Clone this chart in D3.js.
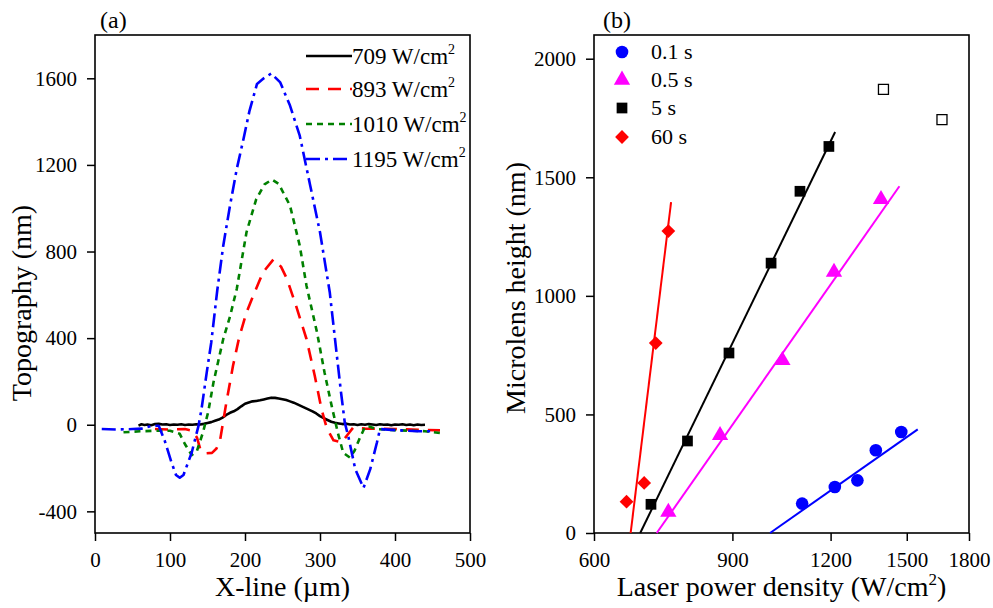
<!DOCTYPE html>
<html><head><meta charset="utf-8">
<script src="https://cdn.jsdelivr.net/npm/d3@7"></script>
<style>
body{margin:0;background:#fff;}
svg text{font-family:"Liberation Serif","Times New Roman",serif;fill:#000;}
</style></head>
<body><svg id="c" width="993" height="608"></svg>
<script>
// ---------- Panel (a) data: topography profiles (x in µm, y in nm)
const legendA = ["709", "893", "1010", "1195"];
const curve709 = [[58,-4],[62,2],[66,-1],[70,1],[75,-2],[80,3],[85,4],[90,1],[95,2],[100,-1],[105,1],[110,0],[115,2],[120,-1],[125,1],[130,0],[135,2],[140,1],[145,4],[150,8],[155,12],[160,18],[165,24],[170,33],[175,45],[180,55],[185,62],[190,72],[195,85],[200,97],[205,103],[210,108],[215,110],[220,113],[225,117],[230,121],[235,125],[240,124],[245,121],[250,118],[255,114],[260,108],[265,102],[270,94],[275,86],[280,78],[285,70],[290,62],[295,52],[300,40],[305,30],[310,22],[315,14],[320,9],[325,6],[330,3],[335,5],[340,1],[345,2],[350,-1],[355,2],[360,0],[365,3],[370,1],[375,-1],[380,2],[385,0],[390,1],[395,-2],[400,1],[405,0],[410,2],[415,-1],[420,1],[425,-2],[430,1],[435,-1],[440,0]];
const curve893 = [[80,-20],[100,-22],[120,-20],[130,-28],[136,-60],[141,-120],[148,-132],[156,-130],[162,-110],[167,-67],[175,100],[184,272],[192,400],[202,519],[211,596],[224,704],[238,764],[248,730],[256,673],[268,550],[282,396],[293,226],[302,72],[309,-15],[318,-72],[329,-82],[337,-45],[344,-14],[360,-18],[400,-20],[440,-24],[460,-26]];
const curve1010 = [[38,-35],[60,-30],[80,-28],[100,-28],[113,-42],[120,-90],[129,-140],[136,-120],[144,-35],[151,60],[158,196],[171,396],[180,500],[189,627],[202,889],[215,1042],[226,1110],[236,1132],[245,1112],[260,1012],[273,827],[282,642],[296,427],[306,242],[316,80],[324,-40],[331,-130],[340,-152],[346,-120],[352,-70],[360,-10],[365,-8],[375,-20],[400,-25],[440,-30],[460,-38]];
const curve1195 = [[9,-20],[30,-22],[50,-20],[62,-18],[76,-5],[85,-5],[93,-74],[102,-174],[108,-232],[113,-245],[118,-232],[129,-128],[138,-5],[142,72],[149,242],[155,380],[163,620],[171,827],[180,1012],[189,1181],[198,1320],[206,1450],[216,1574],[225,1600],[235,1622],[247,1581],[260,1474],[273,1335],[287,1104],[300,889],[313,612],[322,334],[328,150],[333,11],[338,-58],[347,-205],[358,-292],[367,-205],[376,-81],[380,-20],[400,-25],[430,-30],[447,-30]];
const xTicksA = [0,100,200,300,400,500];
const yTicksA = [-400,0,400,800,1200,1600];

// ---------- Panel (b) data: microlens height vs laser power density
const legendB = ["0.1 s", "0.5 s", "5 s", "60 s"];
const pts01 = [[1104,124],[1215,194],[1298,222],[1370,349],[1476,426]];
const pts05 = [[746,88],[868,412],[1042,728],[1212,1100],[1391,1407]];
const pts5  = [[709,121],[789,388],[891,759],[1008,1138],[1097,1441],[1194,1630]];
const pts60 = [[660,132],[695,211],[719,801],[746,1273]];
const ptsOpen = [[1401,1871],[1663,1743]];
const fit01 = [[1005,0],[1549,437]];
const fit05 = [[721,0],[1468,1462]];
const fit5  = [[687,0],[1216,1691]];
const fit60 = [[668,0],[752,1395]];
const xTicksB = [600,900,1200,1500,1800];
const yTicksB = [0,500,1000,1500,2000];

const svg = d3.select("#c");
svg.append("rect").attr("width",993).attr("height",608).attr("fill","#fff");
const fmt = d => String(d);

// ================= Panel (a)
const A = {l:95, r:470, t:35, b:533};
const xA = d3.scaleLinear([0,500],[A.l,A.r]);
const yA = d3.scaleLinear([-500,1800],[A.b,A.t]);

function axes(g, xs, ys, box, xT, yT, xMinor, yMinor){
  const gx = g.append("g").attr("transform",`translate(0,${box.b})`);
  gx.call(d3.axisBottom(xs).tickValues(xMinor).tickSize(5).tickFormat(""));
  gx.call(d3.axisBottom(xs).tickValues(xT).tickSize(8).tickPadding(11).tickFormat(fmt));
  const gy = g.append("g").attr("transform",`translate(${box.l},0)`);
  gy.call(d3.axisLeft(ys).tickValues(yMinor).tickSize(5).tickFormat(""));
  gy.call(d3.axisLeft(ys).tickValues(yT).tickSize(8).tickPadding(10).tickFormat(fmt));
  g.selectAll(".domain").remove();
  g.selectAll(".tick line").attr("stroke","#000").attr("stroke-width",1.5);
  g.selectAll(".tick text").attr("font-size",21).attr("fill","#000");
  g.append("rect").attr("x",box.l).attr("y",box.t).attr("width",box.r-box.l).attr("height",box.b-box.t)
    .attr("fill","none").attr("stroke","#000").attr("stroke-width",1.6);
}

const gA = svg.append("g");
svg.append("clipPath").attr("id","clipA").append("rect")
  .attr("x",A.l).attr("y",A.t).attr("width",A.r-A.l).attr("height",A.b-A.t);

const lineA = d3.line().x(d=>xA(d[0])).y(d=>yA(d[1]));
const seriesA = [
  {data:curve709, color:"#000000", dash:null, w:2.6},
  {data:curve893, color:"#ff0000", dash:"13,9", w:2.6},
  {data:curve1010, color:"#008000", dash:"6,5", w:2.6},
  {data:curve1195, color:"#0000ff", dash:"14,5,3,5", w:2.6}
];
const plotA = gA.append("g").attr("clip-path","url(#clipA)");
seriesA.forEach(s=>{
  plotA.append("path").attr("d",lineA(s.data)).attr("fill","none")
    .attr("stroke",s.color).attr("stroke-width",s.w)
    .attr("stroke-dasharray",s.dash).attr("stroke-linejoin","round");
});
axes(gA, xA, yA, A, xTicksA, yTicksA,
  [50,150,250,350,450], [-200,200,600,1000,1400]);

// legend (a)
const legYA = [56, 89, 124, 159];
seriesA.forEach((s,i)=>{
  gA.append("line").attr("x1",306).attr("x2",352).attr("y1",legYA[i]).attr("y2",legYA[i])
    .attr("stroke",s.color).attr("stroke-width",s.w).attr("stroke-dasharray",s.dash);
  const t = gA.append("text").attr("x",352).attr("y",legYA[i]+8).attr("font-size",23);
  t.append("tspan").text(legendA[i]+" W/cm");
  t.append("tspan").text("2").attr("font-size",14).attr("dy",-10);
});

svg.append("text").attr("x",100).attr("y",28).attr("font-size",24).text("(a)");
svg.append("text").attr("x",(A.l+A.r)/2).attr("y",596).attr("text-anchor","middle")
  .attr("font-size",28).text("X-line (µm)");
svg.append("text").attr("transform","translate(31,303) rotate(-90)").attr("text-anchor","middle")
  .attr("font-size",28).text("Topography (nm)");

// ================= Panel (b)
const B = {l:594, r:969, t:35, b:533};
const xB = d3.scaleLog([600,1800],[B.l,B.r]);
const yB = d3.scaleLinear([0,2100],[B.b,B.t]);
const gB = svg.append("g");
const minorXB = d3.range(630,1800,30).filter(v=>v%300!==0);
axes(gB, xB, yB, B, xTicksB, yTicksB, minorXB, [250,750,1250,1750]);

const lineB = d3.line().x(d=>xB(d[0])).y(d=>yB(d[1]));
const seriesB = [
  {pts:pts01, fit:fit01, color:"#0000ff", sym:d3.symbolCircle, size:125, rot:0},
  {pts:pts05, fit:fit05, color:"#ff00ff", sym:d3.symbolTriangle, size:115, rot:0},
  {pts:pts5,  fit:fit5,  color:"#000000", sym:d3.symbolSquare, size:115, rot:0},
  {pts:pts60, fit:fit60, color:"#ff0000", sym:d3.symbolSquare, size:95, rot:45}
];
seriesB.forEach(s=>{
  gB.append("path").attr("d",lineB(s.fit)).attr("fill","none").attr("stroke",s.color).attr("stroke-width",2);
});
seriesB.forEach(s=>{
  gB.selectAll(null).data(s.pts).enter().append("path")
    .attr("d",d3.symbol(s.sym,s.size))
    .attr("transform",d=>`translate(${xB(d[0])},${yB(d[1])}) rotate(${s.rot})`)
    .attr("fill",s.color);
});
gB.selectAll(null).data(ptsOpen).enter().append("path")
  .attr("d",d3.symbol(d3.symbolSquare,100))
  .attr("transform",d=>`translate(${xB(d[0])},${yB(d[1])})`)
  .attr("fill","#fff").attr("stroke","#000").attr("stroke-width",1.3);

// legend (b)
const legYB = [52, 80, 108, 137];
seriesB.forEach((s,i)=>{
  gB.append("path").attr("d",d3.symbol(s.sym,s.size))
    .attr("transform",`translate(622,${legYB[i]}) rotate(${s.rot})`).attr("fill",s.color);
  gB.append("text").attr("x",651).attr("y",legYB[i]+7).attr("font-size",22).text(legendB[i]);
});

svg.append("text").attr("x",603).attr("y",28).attr("font-size",24).text("(b)");
const xt = svg.append("text").attr("x",(B.l+B.r)/2).attr("y",596).attr("text-anchor","middle").attr("font-size",28);
xt.append("tspan").text("Laser power density (W/cm");
xt.append("tspan").text("2").attr("font-size",17).attr("dy",-11);
xt.append("tspan").text(")").attr("dy",11);
svg.append("text").attr("transform","translate(525,288) rotate(-90)").attr("text-anchor","middle")
  .attr("font-size",28).text("Microlens height (nm)");
</script></body></html>
